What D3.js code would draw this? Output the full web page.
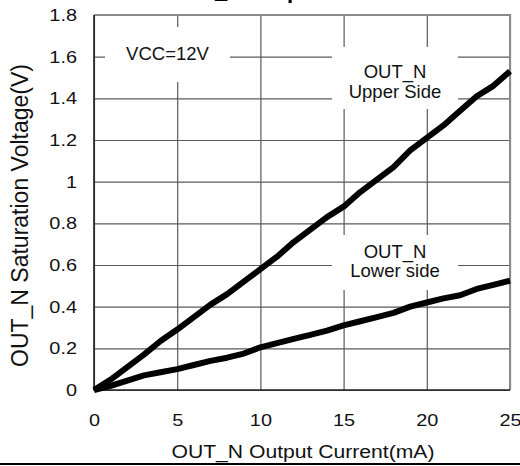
<!DOCTYPE html>
<html>
<head>
<meta charset="utf-8">
<script src="https://cdn.jsdelivr.net/npm/d3@7"></script>
<style>
  body { margin: 0; background: #fff; }
  svg { display: block; font-family: "Liberation Sans", Arial, sans-serif; }
</style>
</head>
<body>
<svg width="520" height="466"></svg>
<script>
var current = [0, 1, 2, 3, 4, 5, 6, 7, 8, 9, 10, 11, 12, 13, 14, 15, 16, 17, 18, 19, 20, 21, 22, 23, 24, 25];
var upperSide = [0, 0.05, 0.11, 0.17, 0.235, 0.29, 0.35, 0.41, 0.46, 0.52, 0.58, 0.64, 0.71, 0.77, 0.83, 0.88, 0.95, 1.01, 1.07, 1.15, 1.21, 1.27, 1.34, 1.41, 1.46, 1.53];
var lowerSide = [0, 0.02, 0.045, 0.07, 0.085, 0.10, 0.12, 0.14, 0.155, 0.175, 0.205, 0.225, 0.245, 0.265, 0.285, 0.31, 0.33, 0.35, 0.37, 0.40, 0.42, 0.44, 0.455, 0.485, 0.505, 0.525];
var xTicks = [0, 5, 10, 15, 20, 25];
var yTicks = [0, 0.2, 0.4, 0.6, 0.8, 1, 1.2, 1.4, 1.6, 1.8];

var svg = d3.select("svg"),
    pLeft = 94, pRight = 510, pTop = 15, pBottom = 390;

var x = d3.scaleLinear().domain([0, 25]).range([pLeft, pRight]);
var y = d3.scaleLinear().domain([0, 1.8]).range([pBottom, pTop]);
var stretch = 1.17;

// title, cut off by the top edge
svg.append("text")
    .attr("x", 168.5)
    .attr("y", -2.5)
    .attr("font-size", 22)
    .attr("font-weight", "bold")
    .text("OUT_N Output Current");

// gridlines + tick labels
var xAxis = svg.append("g")
    .attr("transform", "translate(0," + pBottom + ")")
    .call(d3.axisBottom(x).tickValues(xTicks).tickSize(-(pBottom - pTop)).tickPadding(24).tickFormat(d3.format("d")));
var yAxis = svg.append("g")
    .attr("transform", "translate(" + pLeft + ",0)")
    .call(d3.axisLeft(y).tickValues(yTicks).tickSize(-(pRight - pLeft)).tickPadding(17).tickFormat(function(d) { return String(+d.toFixed(1)); }));

[xAxis, yAxis].forEach(function(a) {
  a.select(".domain").remove();
  a.selectAll("line").attr("stroke", "#5a5a5a").attr("stroke-width", 1.2);
  a.selectAll("text").attr("font-size", 17).attr("fill", "#111")
      .style("font-family", "'Liberation Sans', Arial, sans-serif");
});
xAxis.selectAll("text").attr("transform", "scale(" + stretch + ",1)")
    .attr("x", 0);
xAxis.selectAll(".tick").each(function(d) {
  d3.select(this).select("text").attr("transform", "scale(" + stretch + ",1)");
});
yAxis.selectAll("text").each(function() {
  d3.select(this).attr("x", -17 / stretch).attr("transform", "scale(" + stretch + ",1)");
});

// frame
svg.append("path")
    .attr("d", "M" + pLeft + "," + pTop + "H" + pRight + "V" + pBottom)
    .attr("fill", "none").attr("stroke", "#8a8a8a").attr("stroke-width", 2);
svg.append("path")
    .attr("d", "M" + pLeft + "," + pTop + "V" + pBottom + "H" + pRight)
    .attr("fill", "none").attr("stroke", "#222").attr("stroke-width", 1.6);

// label boxes blank the grid
var boxes = [
  {x0: 105, x1: 230, y0: 27, y1: 82, lines: ["VCC=12V"], cx: 167.5, base: [60]},
  {x0: 332, x1: 458, y0: 47, y1: 109, lines: ["OUT_N", "Upper Side"], cx: 395, base: [78, 98]},
  {x0: 332, x1: 458, y0: 235, y1: 290, lines: ["OUT_N", "Lower side"], cx: 395, base: [258, 277]}
];
boxes.forEach(function(b) {
  svg.append("rect")
      .attr("x", b.x0).attr("y", b.y0)
      .attr("width", b.x1 - b.x0).attr("height", b.y1 - b.y0)
      .attr("fill", "#fff");
  b.lines.forEach(function(s, i) {
    svg.append("text")
        .attr("x", b.cx).attr("y", b.base[i])
        .attr("text-anchor", "middle")
        .attr("font-size", 18.5)
        .attr("fill", "#111")
        .text(s);
  });
});

// curves
var line = d3.line()
    .x(function(d, i) { return x(current[i]); })
    .y(function(d) { return y(d); });

[upperSide, lowerSide].forEach(function(s) {
  svg.append("path")
      .datum(s)
      .attr("d", line)
      .attr("fill", "none")
      .attr("stroke", "#000")
      .attr("stroke-width", 6)
      .attr("stroke-linejoin", "round");
});

// axis titles
svg.append("text")
    .attr("x", 303).attr("y", 458)
    .attr("text-anchor", "middle")
    .attr("font-size", 18)
    .attr("textLength", 263)
    .attr("lengthAdjust", "spacingAndGlyphs")
    .attr("fill", "#111")
    .text("OUT_N Output Current(mA)");

svg.append("text")
    .attr("transform", "translate(28,367) rotate(-90)")
    .attr("font-size", 23)
    .attr("fill", "#111")
    .text("OUT_N Saturation Voltage(V)");

// rule along the bottom edge
svg.append("line")
    .attr("x1", 0).attr("x2", 520)
    .attr("y1", 464).attr("y2", 464)
    .attr("stroke", "#000").attr("stroke-width", 2);
</script>
</body>
</html>
